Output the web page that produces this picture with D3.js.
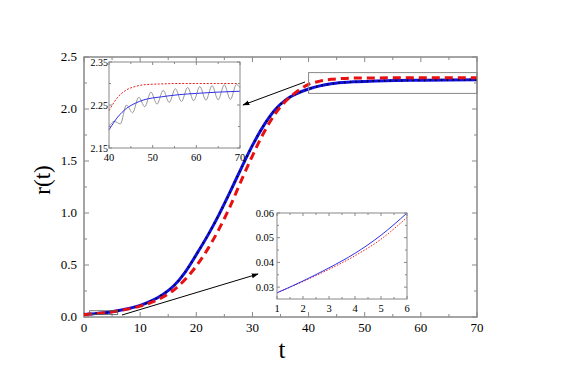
<!DOCTYPE html>
<html><head><meta charset="utf-8">
<script src="https://cdn.jsdelivr.net/npm/d3@7"></script>
<style>body{margin:0;background:#fff}svg{display:block}</style>
</head><body><svg id="c" width="561" height="375"></svg>
<script>
const tVals   = [0,1,2,3,4,5,6,8,10,12,14,16,18,20,22,24,26,28,30,32,34,36,38,40,42,44,46,48,52,56,60,65,70];
const blueVals= [0.023,0.0277,0.0325,0.0378,0.0437,0.051,0.060,0.082,0.112,0.155,0.215,0.30,0.43,0.60,0.78,0.98,1.20,1.43,1.65,1.84,1.99,2.09,2.15,2.192,2.222,2.242,2.254,2.262,2.269,2.274,2.277,2.280,2.282];
const redVals = [0.023,0.0277,0.0323,0.0372,0.0427,0.0494,0.0582,0.078,0.105,0.14,0.19,0.26,0.36,0.49,0.65,0.84,1.06,1.31,1.55,1.77,1.95,2.08,2.17,2.237,2.268,2.285,2.293,2.297,2.299,2.30,2.30,2.30,2.30];
// oscillating numerical solution (extrema)
const oscT = [40,41.2,42.6,44.0,45.4,46.8,48.2,49.6,51.0,52.4,53.8,55.2,56.6,58.0,59.4,60.8,62.2,63.6,65.0,66.4,67.8,69.2,70];
const oscR = [2.200,2.212,2.206,2.250,2.232,2.268,2.246,2.280,2.252,2.284,2.256,2.288,2.258,2.291,2.260,2.293,2.261,2.295,2.262,2.297,2.263,2.298,2.290];
const xTicksMain = [0,10,20,30,40,50,60,70];
const yTicksMain = [0,0.5,1.0,1.5,2.0,2.5];
const xTicksIn1 = [40,50,60,70];
const yTicksIn1 = [2.15,2.25,2.35];
const xTicksIn2 = [1,2,3,4,5,6];
const yTicksIn2 = [0.03,0.04,0.05,0.06];

const svg = d3.select("#c");
const data = tVals.map((t,i)=>({t, b:blueVals[i], r:redVals[i]}));
const osc = oscT.map((t,i)=>({t, r:oscR[i]}));
const frameCol = "#888";
const crv = d3.curveMonotoneX;

function frame(g, x, y, opts){
  const [x0,x1] = x.range(), [y1,y0] = y.range();
  g.append("rect").attr("x",x0).attr("y",y0).attr("width",x1-x0).attr("height",y1-y0)
    .attr("fill","none").attr("stroke",frameCol).attr("stroke-width",opts.sw||1);
  const tk = (xa,ya,xb,yb)=>g.append("line").attr("x1",xa).attr("y1",ya).attr("x2",xb).attr("y2",yb).attr("stroke",frameCol).attr("stroke-width",1);
  opts.xMajor.forEach(v=>{const p=x(v); tk(p,y1,p,y1-opts.L); tk(p,y0,p,y0+opts.L);});
  (opts.xMinor||[]).forEach(v=>{const p=x(v); tk(p,y1,p,y1-opts.l); tk(p,y0,p,y0+opts.l);});
  opts.yMajor.forEach(v=>{const p=y(v); tk(x0,p,x0+opts.L,p); tk(x1,p,x1-opts.L,p);});
  (opts.yMinor||[]).forEach(v=>{const p=y(v); tk(x0,p,x0+opts.l,p); tk(x1,p,x1-opts.l,p);});
}

// main
const x = d3.scaleLinear().domain([0,70]).range([84,477]);
const y = d3.scaleLinear().domain([0,2.5]).range([317,57]);
const main = svg.append("g");
frame(main, x, y, {sw:1.5, L:5, l:3, xMajor:xTicksMain, xMinor:d3.range(5,70,10), yMajor:yTicksMain, yMinor:d3.range(0.25,2.5,0.5)});
main.selectAll(".xl").data(xTicksMain).join("text").attr("x",d=>x(d)).attr("y",332).attr("text-anchor","middle").attr("font-size",13).text(d=>d);
main.selectAll(".yl").data(yTicksMain).join("text").attr("x",77).attr("y",d=>y(d)+4).attr("text-anchor","end").attr("font-size",13).text(d=>d.toFixed(1));
svg.append("text").attr("x",282).attr("y",358).attr("text-anchor","middle").attr("font-size",25).text("t");
svg.append("text").attr("transform","translate(50,180) rotate(-90)").attr("text-anchor","middle").attr("font-size",23).text("r(t)");

const lineB = d3.line().x(d=>x(d.t)).y(d=>y(d.b)).curve(crv);
const lineR = d3.line().x(d=>x(d.t)).y(d=>y(d.r)).curve(crv);
main.append("path").attr("d",lineB(data)).attr("fill","none").attr("stroke","#1010e0").attr("stroke-width",3);
main.append("path").attr("d",lineB(data)).attr("fill","none").attr("stroke","#000").attr("stroke-width",2).attr("stroke-dasharray","1.2,4.5");
main.append("path").attr("d",lineR(data)).attr("fill","none").attr("stroke","#e81010").attr("stroke-width",3).attr("stroke-dasharray","8,5");

// zoom boxes in main
main.append("rect").attr("x",x(40)).attr("y",y(2.35)).attr("width",x(70)-x(40)).attr("height",y(2.15)-y(2.35)).attr("fill","none").attr("stroke","#888").attr("stroke-width",1);
main.append("rect").attr("x",x(1)).attr("y",y(0.06)).attr("width",x(6)-x(1)).attr("height",y(0.025)-y(0.06)).attr("fill","none").attr("stroke","#555").attr("stroke-width",0.8);

// arrows
const defs = svg.append("defs");
defs.append("marker").attr("id","ah").attr("viewBox","0 0 10 10").attr("refX",9).attr("refY",5).attr("markerWidth",7).attr("markerHeight",7).attr("orient","auto")
  .append("path").attr("d","M0,1.5 L10,5 L0,8.5 Z").attr("fill","#000");
svg.append("line").attr("x1",305).attr("y1",82).attr("x2",243).attr("y2",105).attr("stroke","#000").attr("stroke-width",1).attr("marker-end","url(#ah)");
svg.append("line").attr("x1",122).attr("y1",315).attr("x2",258).attr("y2",274).attr("stroke","#000").attr("stroke-width",1).attr("marker-end","url(#ah)");

// inset 1
const x1 = d3.scaleLinear().domain([40,70]).range([109,240]);
const y1 = d3.scaleLinear().domain([2.15,2.35]).range([148,62]);
const in1 = svg.append("g");
in1.append("rect").attr("x",109).attr("y",62).attr("width",131).attr("height",86).attr("fill","#fff");
const d1 = data.filter(d=>d.t>=40);
in1.append("path").attr("d",d3.line().x(d=>x1(d.t)).y(d=>y1(d.r)).curve(crv)(d1)).attr("fill","none").attr("stroke","#e82020").attr("stroke-width",1).attr("stroke-dasharray","2,1.5");
in1.append("path").attr("d",d3.line().x(d=>x1(d.t)).y(d=>y1(d.r)).curve(crv)(osc)).attr("fill","none").attr("stroke","#999").attr("stroke-width",1);
in1.append("path").attr("d",d3.line().x(d=>x1(d.t)).y(d=>y1(d.b)).curve(crv)(d1)).attr("fill","none").attr("stroke","#3030e8").attr("stroke-width",1);
frame(in1, x1, y1, {sw:1, L:3, l:2, xMajor:xTicksIn1, xMinor:[45,55,65], yMajor:yTicksIn1, yMinor:[2.2,2.3]});
in1.selectAll(".xl").data(xTicksIn1).join("text").attr("x",d=>x1(d)).attr("y",161).attr("text-anchor","middle").attr("font-size",10.5).text(d=>d);
in1.selectAll(".yl").data(yTicksIn1).join("text").attr("x",108).attr("y",d=>y1(d)+3.5).attr("text-anchor","end").attr("font-size",10).text(d=>d.toFixed(2));

// inset 2
const x2 = d3.scaleLinear().domain([1,6]).range([277,407]);
const y2 = d3.scaleLinear().domain([0.0252,0.06]).range([299,213]);
const in2 = svg.append("g");
in2.append("rect").attr("x",277).attr("y",213).attr("width",130).attr("height",86).attr("fill","#fff");
const d2 = data.filter(d=>d.t>=1 && d.t<=6);
in2.append("path").attr("d",d3.line().x(d=>x2(d.t)).y(d=>y2(d.r)).curve(crv)(d2)).attr("fill","none").attr("stroke","#e82020").attr("stroke-width",1).attr("stroke-dasharray","1.5,1.5");
in2.append("path").attr("d",d3.line().x(d=>x2(d.t)).y(d=>y2(d.b)).curve(crv)(d2)).attr("fill","none").attr("stroke","#3030e8").attr("stroke-width",1);
frame(in2, x2, y2, {sw:1, L:3, l:2, xMajor:xTicksIn2, xMinor:[1.5,2.5,3.5,4.5,5.5], yMajor:yTicksIn2, yMinor:[0.035,0.045,0.055]});
in2.selectAll(".xl").data(xTicksIn2).join("text").attr("x",d=>x2(d)).attr("y",312).attr("text-anchor","middle").attr("font-size",10.5).text(d=>d);
in2.selectAll(".yl").data(yTicksIn2).join("text").attr("x",274).attr("y",d=>y2(d)+3.5).attr("text-anchor","end").attr("font-size",10.5).text(d=>d.toFixed(2));

svg.selectAll("text").style("font-family","'Liberation Serif', 'Times New Roman', serif");
</script></body></html>
